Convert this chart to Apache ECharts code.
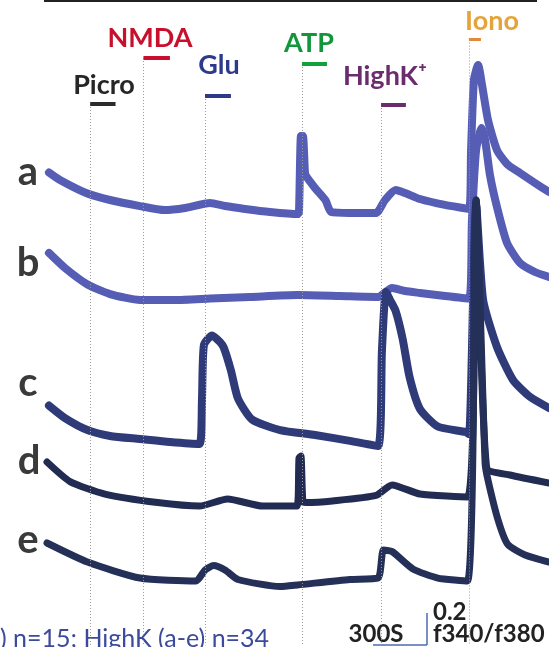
<!DOCTYPE html>
<html style="height: 100%">

<head>
  <meta charset="utf-8">
</head>

<body style="height: 100%; margin: 0; background: #fff">
  <div id="container" style="height: 100%"></div>
  <script type="text/javascript" src="https://cdn.jsdelivr.net/npm/echarts@6/dist/echarts.min.js"></script>
  <script type="text/javascript">
  // time in s (0 = start of recording), ratio f340/f380 stacked with per-trace offset
  var traceA = [[11,2.966],[72,2.919],[225,2.834],[350,2.794],[517,2.756],[653,2.731],[767,2.744],[906,2.775],[989,2.756],[1100,2.738],[1239,2.719],[1392,2.706],[1400,2.719],[1411,3.194],[1422,3.194],[1433,2.969],[1439,2.944],[1489,2.869],[1548,2.791],[1578,2.719],[1683,2.713],[1828,2.713],[1878,2.794],[1937,2.856],[1989,2.838],[2072,2.8],[2211,2.763],[2345,2.738],[2356,3.106],[2372,3.544],[2395,3.638],[2417,3.513],[2450,3.294],[2500,3.106],[2561,3.013],[2628,2.963],[2711,2.9],[2789,2.844]];
  var traceB = [[11,2.463],[100,2.369],[225,2.266],[350,2.206],[517,2.169],[711,2.169],[906,2.178],[1128,2.188],[1392,2.2],[1628,2.194],[1839,2.188],[1917,2.244],[1989,2.225],[2072,2.213],[2211,2.194],[2345,2.178],[2361,2.669],[2384,3.106],[2415,3.244],[2434,3.169],[2461,2.95],[2500,2.75],[2556,2.525],[2628,2.4],[2711,2.344],[2789,2.313]];
  var traceC = [[11,1.509],[100,1.431],[225,1.356],[350,1.319],[517,1.3],[683,1.281],[848,1.269],[861,1.544],[872,1.888],[917,1.947],[961,1.906],[983,1.869],[1022,1.728],[1061,1.553],[1139,1.422],[1295,1.356],[1489,1.325],[1683,1.288],[1839,1.256],[1861,1.856],[1883,2.219],[1906,2.169],[1937,2.1],[1976,1.925],[2015,1.684],[2072,1.488],[2171,1.378],[2326,1.344],[2345,1.331],[2384,2.763],[2423,2.169],[2500,1.875],[2589,1.669],[2684,1.563],[2789,1.494]];
  var traceD = [[0,1.156],[128,1.034],[322,0.956],[615,0.903],[848,0.881],[1003,0.925],[1198,0.881],[1389,0.881],[1400,1.181],[1411,1.194],[1422,0.906],[1439,0.903],[1587,0.913],[1828,0.947],[1917,1.013],[2072,0.956],[2336,0.938],[2384,2.794],[2443,1.119],[2572,1.075],[2789,1.025]];
  var traceE = [[0,0.65],[225,0.531],[517,0.431],[828,0.413],[878,0.481],[926,0.509],[989,0.481],[1061,0.422],[1295,0.378],[1392,0.388],[1683,0.422],[1839,0.431],[1869,0.606],[1917,0.597],[2033,0.488],[2171,0.431],[2336,0.413],[2384,2.794],[2434,1.15],[2450,1.044],[2506,0.794],[2560,0.641],[2656,0.575],[2789,0.531]];

  var stimNames = ['Picro', 'NMDA', 'Glu', 'ATP', 'HighK\u207A', 'Iono'];
  var stimStart = [240, 536, 878, 1417, 1856, 2344];
  var stimEnd = [381, 683, 1022, 1556, 1994, 2411];

  var rowNames = ['a', 'b', 'c', 'd', 'e'];

  // layout / style
  var barLevel = [3.394, 3.681, 3.444, 3.644, 3.388, 3.797];
  var barColor = ['#2b2b2b', '#c8102e', '#2d3a8c', '#12a03c', '#6b2c6e', '#e08a3a'];
  var textColor = ['#262626', '#c8102e', '#2d3a8c', '#12963c', '#6b2c6e', '#e5a43a'];
  var textPos = [[104, 85], [150, 38], [219, 65], [309, 43], [385, 76], [492, 21]];
  var rowPos = [[28, 172], [28, 263], [28, 383], [29, 461], [28, 540]];

  var dom = document.getElementById('container');
  var myChart = echarts.init(dom);

  var stimLines = [];
  stimStart.forEach(function (t, i) {
    stimLines.push([
      { coord: [t, barLevel[i]], lineStyle: { color: '#9a9a9a', width: 1, type: [1, 2] } },
      { coord: [t, 0.01] }
    ]);
    stimLines.push([
      { coord: [t, barLevel[i]], lineStyle: { color: barColor[i], width: i === 5 ? 3 : 4, type: 'solid' } },
      { coord: [stimEnd[i], barLevel[i]] }
    ]);
  });

  function trace(name, data, color, width) {
    return {
      name: name,
      type: 'line',
      data: data,
      showSymbol: false,
      smooth: 0.2,
      lineStyle: { color: color, width: width, cap: 'round', join: 'round' },
      z: 3
    };
  }

  var graphics = [
    { type: 'line', shape: { x1: 44, y1: 1, x2: 537, y2: 1 }, style: { stroke: '#222', lineWidth: 2 } }
  ];
  stimNames.forEach(function (s, i) {
    graphics.push({
      type: 'text', x: textPos[i][0], y: textPos[i][1],
      style: { text: s, fill: textColor[i], font: 'bold 27px Lato', align: 'center', verticalAlign: 'middle' }
    });
  });
  rowNames.forEach(function (s, i) {
    graphics.push({
      type: 'text', x: rowPos[i][0], y: rowPos[i][1],
      style: { text: s, fill: '#3a3a3a', font: 'bold 40px Lato', align: 'center', verticalAlign: 'middle' }
    });
  });
  graphics.push(
    { type: 'text', x: 0, y: 639, style: { text: ') n=15; HighK (a-e) n=34', fill: '#3b4a9a', font: '25px Lato', align: 'left', verticalAlign: 'middle' } },
    { type: 'text', x: 376, y: 634, style: { text: '300S', fill: '#222', font: 'bold 24px Lato', align: 'center', verticalAlign: 'middle' } },
    { type: 'text', x: 433, y: 612, style: { text: '0.2', fill: '#222', font: 'bold 24px Lato', align: 'left', verticalAlign: 'middle' } },
    { type: 'text', x: 433, y: 634, style: { text: 'f340/f380', fill: '#222', font: 'bold 24px Lato', align: 'left', verticalAlign: 'middle' } },
    { type: 'line', shape: { x1: 373, y1: 645, x2: 427, y2: 645 }, style: { stroke: '#4a6db5', lineWidth: 1.5 } },
    { type: 'line', shape: { x1: 427, y1: 613, x2: 427, y2: 645 }, style: { stroke: '#4a6db5', lineWidth: 1.5 } }
  );

  var option = {
    animation: false,
    backgroundColor: '#fff',
    grid: { left: 0, right: 0, top: 0, bottom: 0 },
    xAxis: { type: 'value', min: -261, max: 2789, show: false },
    yAxis: { type: 'value', min: 0, max: 4.044, show: false },
    series: [
      {
        name: 'stim',
        type: 'line',
        data: [],
        markLine: { symbol: 'none', silent: true, label: { show: false }, data: stimLines },
        z: 2
      },
      trace('a', traceA, '#555db5', 8),
      trace('b', traceB, '#555db5', 8),
      trace('c', traceC, '#2f3a78', 8),
      trace('d', traceD, '#222c52', 7),
      trace('e', traceE, '#243057', 7)
    ],
    graphic: graphics
  };

  myChart.setOption(option);
  </script>
</body>

</html>
